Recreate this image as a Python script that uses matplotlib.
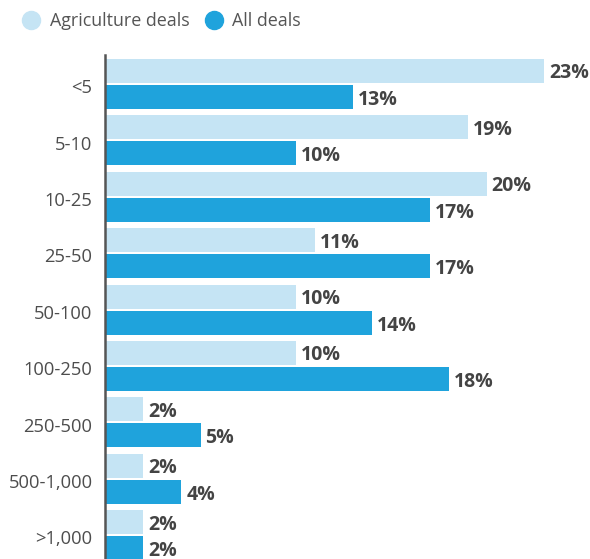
import matplotlib.pyplot as plt
from matplotlib.lines import Line2D
import numpy as np

plt.rcParams['font.family'] = ['Open Sans', 'DejaVu Sans']

categories = ['<5', '5-10', '10-25', '25-50', '50-100', '100-250', '250-500', '500-1,000', '>1,000']
agri = [23, 19, 20, 11, 10, 10, 2, 2, 2]
all_deals = [13, 10, 17, 17, 14, 18, 5, 4, 2]

c_agri = '#c5e4f4'
c_all = '#1fa3dc'

W, H = 590, 559
fig = plt.figure(figsize=(W / 100, H / 100), dpi=100)
# axes from x=105px to right edge, y=55px to bottom edge
ax = fig.add_axes([105 / W, 0, 1 - 105 / W, 1 - 55 / H])

pitch = 56.4
bh = 24 / pitch
off = 13 / pitch
y = np.arange(len(categories))

ax.barh(y - off, agri, height=bh, color=c_agri)
ax.barh(y + off, all_deals, height=bh, color=c_all)

for i in range(len(categories)):
    ax.text(agri[i] + 0.25, y[i] - off, f'{agri[i]}%', va='center_baseline', ha='left',
            fontsize=14, fontweight='bold', color='#444444')
    ax.text(all_deals[i] + 0.25, y[i] + off + 0.01, f'{all_deals[i]}%', va='center_baseline',
            ha='left', fontsize=14, fontweight='bold', color='#444444')

ax.set_xlim(0, (W - 105) / 19.1)
ax.set_ylim((H - 84) / pitch, -29 / pitch)
ax.set_yticks(y + 0.04)
ax.set_yticklabels(categories, fontsize=13.2, color='#4d4d4d')
for lab in ax.get_yticklabels():
    lab.set_va('center_baseline')
ax.tick_params(axis='y', length=0, pad=9)
ax.set_xticks([])
for s in ['top', 'right', 'bottom']:
    ax.spines[s].set_visible(False)
ax.spines['left'].set_color('#555555')
ax.spines['left'].set_linewidth(1.8)

handles = [Line2D([], [], marker='o', linestyle='', markersize=13, color=c_agri),
           Line2D([], [], marker='o', linestyle='', markersize=13, color=c_all)]
fig.legend(handles, ['Agriculture deals', 'All deals'], loc='center left',
           bbox_to_anchor=(4 / W, 1 - 21 / H), ncol=2, frameon=False,
           fontsize=12.9, labelcolor='#555555', handletextpad=0.45, columnspacing=0.75,
           handlelength=1.2)

fig.savefig('out.png', dpi=100)
